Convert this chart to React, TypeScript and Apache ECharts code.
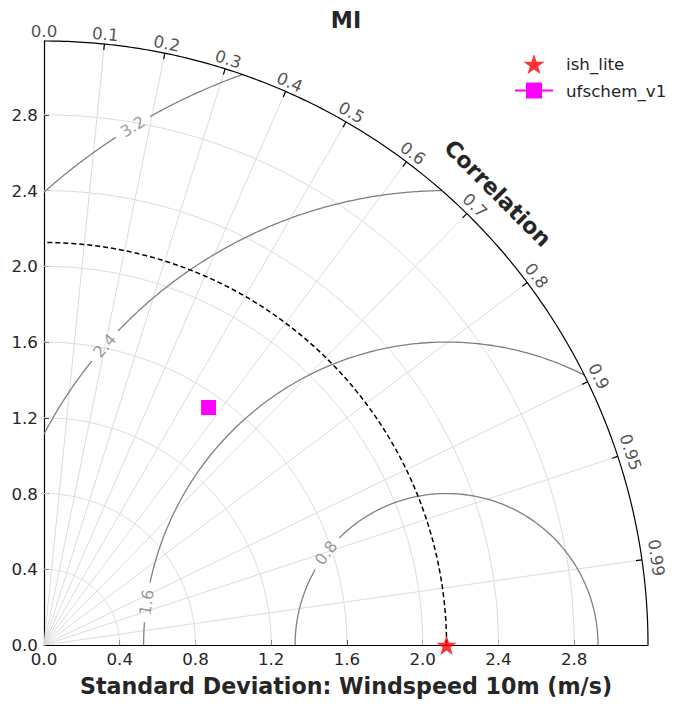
import { useEffect, useRef } from 'react';
import * as echarts from 'echarts';

// Reference observation and model statistics
const REF_NAME = 'ish_lite';
const REF_STD = 2.126;
const MODEL_NAMES = ['ufschem_v1'];
const MODEL_STD = [1.526];
const MODEL_CORR = [0.5695];

// Axis ticks
const STD_MAX = 3.19;
const STD_TICKS = [0, 0.4, 0.8, 1.2, 1.6, 2.0, 2.4, 2.8];
const CORR_TICKS = [0, 0.1, 0.2, 0.3, 0.4, 0.5, 0.6, 0.7, 0.8, 0.9, 0.95, 0.99];
const CORR_TICK_LABELS = ['0.0', '0.1', '0.2', '0.3', '0.4', '0.5', '0.6', '0.7', '0.8', '0.9', '0.95', '0.99'];

// Centred RMS difference contours around the reference point
const RMS_LEVELS = [0.8, 1.6, 2.4, 3.2];
const RMS_LABELS = ['0.8', '1.6', '2.4', '3.2'];

// where each contour label sits, in degrees around the reference point
const RMS_LABEL_ANGLE = [142.6, 171.9, 138.8, 121.2];

const GRID = { left: 44, top: 41, size: 604 };
const PX = GRID.size / STD_MAX;
const FONT = '"DejaVu Sans", "Liberation Sans", sans-serif';
const TEXT = '#262626';
const STAR =
  'path://M50,0 L61.8,35.1 L98.1,35.1 L68.8,56.9 L79.4,91 L50,70 L20.6,91 L31.2,56.9 L1.9,35.1 L38.2,35.1 Z';

type Pt = [number, number];

function arcPts(cx: number, r: number, a0: number, a1: number, n = 160): Pt[] {
  const pts: Pt[] = [];
  for (let i = 0; i <= n; i++) {
    const a = a0 + ((a1 - a0) * i) / n;
    pts.push([cx + r * Math.cos(a), r * Math.sin(a)]);
  }
  return pts;
}

function lineSeries(data: Pt[], color: string, width: number, extra: any = {}) {
  return {
    type: 'line',
    data,
    showSymbol: false,
    symbol: 'none',
    silent: true,
    clip: false,
    animation: false,
    lineStyle: { color, width, ...(extra.lineStyle || {}) },
    z: extra.z ?? 2,
  };
}

// angular extent of an RMS contour that stays inside the quarter disc
function contourRange(r: number): [number, number] {
  const a = REF_STD;
  let p0 = 0;
  if (a + r > STD_MAX) {
    const x = (STD_MAX * STD_MAX - r * r + a * a) / (2 * a);
    const y = Math.sqrt(Math.max(0, STD_MAX * STD_MAX - x * x));
    p0 = Math.atan2(y, x - a);
  }
  let p1 = Math.PI;
  if (a - r < 0) {
    p1 = Math.atan2(Math.sqrt(r * r - a * a), -a);
  }
  return [p0, p1];
}

function buildOption() {
  const series: any[] = [];

  // standard deviation grid arcs
  STD_TICKS.slice(1).forEach((s) => {
    series.push(lineSeries(arcPts(0, s, 0, Math.PI / 2), '#dcdcdc', 1, { z: 1 }));
  });

  // correlation rays
  CORR_TICKS.forEach((c) => {
    if (c === 0) return;
    const s = Math.sqrt(1 - c * c);
    series.push(lineSeries([[0, 0], [STD_MAX * c, STD_MAX * s]], '#dcdcdc', 1, { z: 1 }));
  });

  // RMS contours, broken where their labels sit
  const contourLabels: any[] = [];
  RMS_LEVELS.forEach((r, i) => {
    const [p0, p1] = contourRange(r);
    const pl = (RMS_LABEL_ANGLE[i] * Math.PI) / 180;
    const gap = 20 / (r * PX);
    series.push(lineSeries(arcPts(REF_STD, r, p0, pl - gap), '#808080', 1.3, { z: 3 }));
    series.push(lineSeries(arcPts(REF_STD, r, pl + gap, p1), '#808080', 1.3, { z: 3 }));
    contourLabels.push({
      name: RMS_LABELS[i],
      value: [REF_STD + r * Math.cos(pl), r * Math.sin(pl)],
      label: { rotate: RMS_LABEL_ANGLE[i] - 90 },
    });
  });

  // reference standard deviation
  series.push(
    lineSeries(arcPts(0, REF_STD, 0, Math.PI / 2), '#000000', 1.5, {
      z: 4,
      lineStyle: { type: [5, 3] },
    })
  );

  // outer boundary and correlation ticks
  series.push(lineSeries(arcPts(0, STD_MAX, 0, Math.PI / 2, 240), '#000000', 1.2, { z: 4 }));
  const tickLen = 6 / PX;
  const corrLabels: any[] = [];
  CORR_TICKS.forEach((c, i) => {
    const s = Math.sqrt(1 - c * c);
    if (c > 0) {
      series.push(
        lineSeries(
          [
            [STD_MAX * c, STD_MAX * s],
            [(STD_MAX - tickLen) * c, (STD_MAX - tickLen) * s],
          ],
          '#000000',
          1.2,
          { z: 4 }
        )
      );
    }
    const theta = (Math.acos(c) * 180) / Math.PI;
    const off = (10 + 5 * Math.pow(1 - theta / 90, 2)) / PX;
    corrLabels.push({
      name: CORR_TICK_LABELS[i],
      value: [(STD_MAX + off) * c, (STD_MAX + off) * s],
      label: { rotate: theta - 90 },
    });
  });

  const labelSeries = (data: any[], color: string, size: number) => ({
    type: 'scatter',
    data,
    symbolSize: 1,
    silent: true,
    clip: false,
    itemStyle: { color: 'rgba(0,0,0,0)' },
    label: {
      show: true,
      position: 'inside',
      formatter: (p: any) => p.name,
      color,
      fontSize: size,
      fontFamily: FONT,
      align: 'center',
      verticalAlign: 'middle',
    },
    z: 5,
  });
  series.push(labelSeries(contourLabels, '#808080', 16));
  series.push(labelSeries(corrLabels, TEXT, 16.7));

  // reference point
  series.push({
    name: REF_NAME,
    type: 'scatter',
    data: [[REF_STD, 0]],
    symbol: STAR,
    symbolSize: 20,
    clip: false,
    itemStyle: { color: '#ff0000' },
    z: 10,
  });

  // models
  MODEL_NAMES.forEach((name, i) => {
    const std = MODEL_STD[i];
    const c = MODEL_CORR[i];
    series.push({
      name,
      type: 'line',
      data: [[std * c, std * Math.sqrt(1 - c * c)]],
      symbol: 'rect',
      symbolSize: 15,
      showSymbol: true,
      clip: false,
      itemStyle: { color: '#ff00ff' },
      lineStyle: { color: '#ff00ff', width: 2 },
      z: 10,
    });
  });

  const axisCommon = {
    type: 'value',
    min: 0,
    max: STD_MAX,
    interval: 0.4,
    axisLine: { show: true, lineStyle: { color: '#000000', width: 1.2 } },
    axisTick: { show: true, inside: true, length: 5, lineStyle: { color: '#000000', width: 1 }, customValues: STD_TICKS },
    splitLine: { show: false },
  };

  const tickLabel = (margin: number) => ({
    customValues: STD_TICKS,
    formatter: (v: number) => v.toFixed(1),
    fontSize: 16.7,
    fontFamily: FONT,
    color: TEXT,
    margin,
  });

  return {
    animation: false,
    grid: { left: GRID.left, top: GRID.top, width: GRID.size, height: GRID.size, containLabel: false },
    xAxis: {
      ...axisCommon,
      axisLabel: tickLabel(5),
      name: 'Standard Deviation: Windspeed 10m (m/s)',
      nameLocation: 'middle',
      nameGap: 30,
      nameTextStyle: { fontSize: 22.2, fontWeight: 'bold', fontFamily: FONT, color: TEXT },
    },
    yAxis: {
      ...axisCommon,
      axisLabel: tickLabel(6),
    },
    legend: {
      orient: 'vertical',
      left: 514,
      top: 54,
      padding: 0,
      itemWidth: 38,
      itemHeight: 20,
      itemGap: 8,
      data: [
        { name: REF_NAME },
        ...MODEL_NAMES.map((n) => ({ name: n, lineStyle: { width: 2 } })),
      ],
      textStyle: { fontSize: 16.7, fontFamily: FONT, color: TEXT, padding: [0, 0, 0, 8] },
    },
    graphic: [
      {
        type: 'text',
        x: 346,
        y: 20,
        style: {
          text: 'MI',
          font: `bold 22.2px ${FONT}`,
          fill: TEXT,
          align: 'center',
          verticalAlign: 'middle',
        },
      },
      {
        type: 'text',
        x: 498,
        y: 193,
        rotation: -Math.PI / 4,
        style: {
          text: 'Correlation',
          font: `bold 22.2px ${FONT}`,
          fill: TEXT,
          align: 'center',
          verticalAlign: 'middle',
        },
      },
    ],
    series,
  };
}

export default function App() {
  const ref = useRef<HTMLDivElement>(null);
  useEffect(() => {
    if (!ref.current) return;
    const chart = echarts.init(ref.current, undefined, { renderer: 'svg' });
    chart.setOption(buildOption() as any);
    return () => chart.dispose();
  }, []);
  return (
    <div
      ref={ref}
      style={{ position: 'fixed', left: 0, top: 0, width: 689, height: 708, background: '#ffffff' }}
    />
  );
}
